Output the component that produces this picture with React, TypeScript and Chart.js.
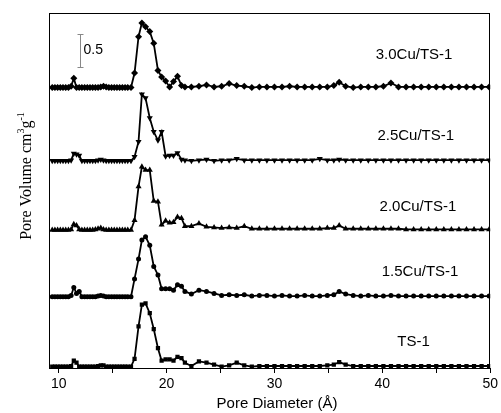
import { useEffect, useRef } from "react";
import { Chart, registerables } from "chart.js";
Chart.register(...registerables);

const poreDiameter = [
  9.4, 9.65, 9.9, 10.15, 10.4, 10.65, 10.9, 11.15, 11.4, 11.65, 11.9, 12.15, 12.4, 12.65, 12.9,
  13.15, 13.4, 13.65, 13.9, 14.15, 14.4, 14.65, 14.9, 15.15, 15.4, 15.65, 15.9, 16.15, 16.4, 16.7,
  17.03, 17.4, 17.71, 18.05, 18.44, 18.81, 19.2, 19.54, 19.91, 20.28, 20.64, 21.01, 21.38,
  21.7, 22.3, 23.0, 23.7, 24.4, 25.1, 25.8, 26.5, 27.2, 27.9, 28.6, 29.3, 30.0, 30.7, 31.4, 32.1,
  32.8, 33.5, 34.2, 34.9, 35.5, 36.0, 36.6, 37.3, 38.0, 38.7, 39.4, 40.1, 40.8, 41.5, 42.2, 42.9,
  43.6, 44.3, 45.0, 45.7, 46.4, 47.1, 47.8, 48.5, 49.2, 49.9,
];

const seriesLabels = ["3.0Cu/TS-1", "2.5Cu/TS-1", "2.0Cu/TS-1", "1.5Cu/TS-1", "TS-1"];
const seriesOffsets = [4.25, 3.14, 2.09, 1.08, 0.02];

const cu30 = [
  0, 0, 0, 0, 0, 0, 0, 0.02, 0.14, 0, 0, 0, 0, 0, 0,
  0, 0, 0, 0.01, 0.02, 0.01, 0, 0, 0, 0, 0, 0, 0, 0, 0,
  0.22, 0.77, 0.98, 0.92, 0.85, 0.67, 0.26, 0.16, 0.1, 0.01, 0.09, 0.17, 0.03,
  0.01, 0.01, 0.02, 0.04, 0.01, 0.02, 0.06, 0.03, 0.02, 0, 0.01, 0.01, 0.01, 0.01, 0.02, 0.01,
  0.01, 0.01, 0.01, 0.01, 0.03, 0.08, 0.02, 0, 0.01, 0.01, 0.01, 0.02, 0.07, 0.01, 0.01, 0.01,
  0.01, 0.01, 0.01, 0.01, 0.01, 0.01, 0.01, 0.01, 0.01, 0.01,
];
const cu25 = [
  0, 0, 0, 0, 0, 0, 0, 0.01, 0.11, 0.1, 0.08, 0, 0, 0, 0,
  0, 0, 0.01, 0.02, 0.01, 0, 0, 0, 0, 0, 0, 0, 0, 0, 0,
  0.06, 0.29, 1.01, 0.95, 0.65, 0.44, 0.31, 0.44, 0.07, 0.08, 0.08, 0.12, 0.02,
  0.01, 0, 0.01, 0.02, 0, 0.01, 0.01, 0.03, 0.01, 0.01, 0.01, 0.01, 0.01, 0.01, 0.01, 0.01,
  0.01, 0.01, 0.03, 0.01, 0.01, 0.02, 0.01, 0.01, 0.01, 0.01, 0.01, 0.01, 0.01, 0.01, 0.01, 0.01,
  0.01, 0.01, 0.01, 0.01, 0.01, 0.01, 0.01, 0.01, 0.01, 0.01,
];
const cu20 = [
  0, 0, 0, 0, 0, 0, 0, 0.01, 0.09, 0.07, 0.01, 0, 0, 0, 0,
  0, 0.01, 0.02, 0.03, 0.01, 0, 0, 0, 0, 0, 0, 0, 0, 0, 0,
  0.15, 0.66, 0.96, 0.91, 0.91, 0.44, 0.43, 0.08, 0.14, 0.11, 0.12, 0.2, 0.18,
  0.06, 0.06, 0.1, 0.05, 0.04, 0.03, 0.04, 0.03, 0.06, 0.02, 0.02, 0.02, 0.02, 0.02, 0.02, 0.02,
  0.02, 0.02, 0.02, 0.03, 0.03, 0.07, 0.02, 0.02, 0.02, 0.02, 0.02, 0.02, 0.02, 0.02, 0.01, 0.01,
  0.01, 0.01, 0.01, 0.01, 0.01, 0.01, 0.01, 0.01, 0.01, 0.01,
];
const cu15 = [
  0, 0, 0, 0, 0, 0, 0, 0.02, 0.14, 0.05, 0.08, 0, 0, 0, 0,
  0, 0, 0.01, 0.02, 0.01, 0, 0, 0, 0, 0, 0, 0, 0, 0, 0,
  0.27, 0.57, 0.86, 0.91, 0.78, 0.46, 0.33, 0.12, 0.12, 0.12, 0.1, 0.18, 0.16,
  0.08, 0.04, 0.1, 0.08, 0.05, 0.02, 0.03, 0.02, 0.03, 0.01, 0.02, 0.02, 0.01, 0.02, 0.01, 0.01,
  0.02, 0.01, 0.01, 0.02, 0.03, 0.08, 0.04, 0.02, 0.01, 0.02, 0.01, 0.01, 0.02, 0.01, 0.01, 0.01,
  0.01, 0.01, 0.01, 0.01, 0.01, 0.01, 0.01, 0.01, 0.01, 0.01,
];
const ts1 = [
  0, 0, 0, 0, 0, 0, 0, 0.01, 0.09, 0.06, 0, 0, 0, 0, 0,
  0, 0, 0.01, 0.02, 0.02, 0, 0, 0, 0, 0, 0, 0, 0, 0, 0,
  0.12, 0.61, 0.94, 0.96, 0.81, 0.57, 0.28, 0.09, 0.11, 0.11, 0.09, 0.15, 0.13,
  0.06, 0.01, 0.08, 0.06, 0.03, 0, 0.02, 0.06, 0.02, 0, 0.01, 0.01, 0.01, 0.01, 0.01, 0.01,
  0.01, 0.01, 0.01, 0.02, 0.03, 0.07, 0.03, 0.01, 0.01, 0.01, 0.01, 0.01, 0.01, 0.01, 0.01, 0.01,
  0.01, 0.01, 0.01, 0.01, 0.01, 0.01, 0.01, 0.01, 0.01, 0.01,
];
const seriesValues = [cu30, cu25, cu20, cu15, ts1];

const xMin = 9.1;
const xMax = 50;
const yMin = 0;
const yMax = 5.38;
const xTickStep = 5;
const xLabelStep = 10;

const labelAnchorX = [42.94, 43.1, 43.3, 43.5, 42.9];
const labelAnchorY = [4.74, 3.52, 2.44, 1.45, 0.39];

const scaleBarX = 12;
const scaleBarFrom = 4.56;
const scaleBarSize = 0.5;

const markerStyles = [
  { pointStyle: "rectRot", radius: 3.5, rotation: 0 },
  { pointStyle: "triangle", radius: 3.5, rotation: 180 },
  { pointStyle: "triangle", radius: 3.5, rotation: 0 },
  { pointStyle: "circle", radius: 2.5, rotation: 0 },
  { pointStyle: "rect", radius: 3, rotation: 0 },
];

const SANS = "'Liberation Sans', Arial, sans-serif";
const SERIF = "'Liberation Serif', 'Times New Roman', serif";

const decorPlugin = {
  id: "decor",
  afterDraw(chart: any) {
    const { ctx, chartArea } = chart;
    const xs = chart.scales.x;
    const ys = chart.scales.y;
    ctx.save();
    ctx.strokeStyle = "#000";
    ctx.lineWidth = 1;
    ctx.strokeRect(
      Math.round(chartArea.left) + 0.5,
      Math.round(chartArea.top) + 0.5,
      Math.round(chartArea.right - chartArea.left) - 1,
      Math.round(chartArea.bottom - chartArea.top)
    );
    ctx.fillStyle = "#000";
    ctx.font = `15px ${SANS}`;
    ctx.textAlign = "center";
    ctx.textBaseline = "middle";
    seriesLabels.forEach((lab, i) => {
      ctx.fillText(lab, xs.getPixelForValue(labelAnchorX[i]), ys.getPixelForValue(labelAnchorY[i]));
    });
    const bx = Math.round(xs.getPixelForValue(scaleBarX)) + 0.5;
    const by0 = ys.getPixelForValue(scaleBarFrom);
    const by1 = ys.getPixelForValue(scaleBarFrom + scaleBarSize);
    ctx.strokeStyle = "#888";
    ctx.lineWidth = 1;
    ctx.beginPath();
    ctx.moveTo(bx, by0);
    ctx.lineTo(bx, by1);
    ctx.moveTo(bx - 3, Math.round(by0) + 0.5);
    ctx.lineTo(bx + 3, Math.round(by0) + 0.5);
    ctx.moveTo(bx - 3, Math.round(by1) + 0.5);
    ctx.lineTo(bx + 3, Math.round(by1) + 0.5);
    ctx.stroke();
    ctx.fillStyle = "#000";
    ctx.font = `14px ${SANS}`;
    ctx.textAlign = "left";
    ctx.textBaseline = "middle";
    ctx.fillText(String(scaleBarSize), bx + 3, (by0 + by1) / 2);
    ctx.font = `15px ${SANS}`;
    ctx.textAlign = "center";
    ctx.fillText("Pore Diameter (\u00C5)", 277, 404);
    ctx.translate(31, 176);
    ctx.rotate(-Math.PI / 2);
    ctx.textAlign = "left";
    ctx.textBaseline = "alphabetic";
    const main = `16px ${SERIF}`;
    const sup = `10px ${SERIF}`;
    const parts: [string, string, number][] = [
      ["Pore Volume cm", main, 0],
      ["3", sup, -7],
      ["g", main, 0],
      ["-1", sup, -7],
    ];
    let total = 0;
    parts.forEach(([t, f]) => {
      ctx.font = f;
      total += ctx.measureText(t).width;
    });
    let cx = -total / 2;
    parts.forEach(([t, f, dy]) => {
      ctx.font = f;
      ctx.fillText(t, cx, dy);
      cx += ctx.measureText(t).width;
    });
    ctx.restore();
  },
};

export default function App() {
  const canvasRef = useRef<HTMLCanvasElement | null>(null);

  useEffect(() => {
    document.body.style.margin = "0";
    const canvas = canvasRef.current;
    if (!canvas) return;
    const datasets = seriesLabels.map((lab, i) => ({
      label: lab,
      data: poreDiameter.map((x, j) => ({ x, y: seriesValues[i][j] + seriesOffsets[i] })),
      borderColor: "#000",
      backgroundColor: "#000",
      borderWidth: 1.8,
      tension: 0,
      pointStyle: markerStyles[i].pointStyle as any,
      pointRadius: markerStyles[i].radius,
      pointRotation: markerStyles[i].rotation,
      pointBorderWidth: 0,
      pointBackgroundColor: "#000",
      pointBorderColor: "#000",
    }));
    const chart = new Chart(canvas, {
      type: "line",
      data: { datasets },
      options: {
        animation: false,
        responsive: true,
        maintainAspectRatio: false,
        layout: { padding: { top: 13, right: 6, left: 0, bottom: 0 } },
        plugins: {
          legend: { display: false },
          tooltip: { enabled: false },
        },
        scales: {
          x: {
            type: "linear",
            min: xMin,
            max: xMax,
            grid: {
              display: true,
              drawOnChartArea: false,
              drawTicks: true,
              tickLength: 5,
              color: "#000",
            },
            border: { display: false },
            ticks: {
              stepSize: xTickStep,
              includeBounds: false,
              autoSkip: false,
              maxRotation: 0,
              padding: 3,
              color: "#000",
              font: { family: SANS, size: 14 },
              callback: (v: any) => (Number(v) % xLabelStep === 0 ? String(v) : ""),
            },
            afterFit: (s: any) => {
              s.height = 45;
            },
          },
          y: {
            type: "linear",
            min: yMin,
            max: yMax,
            grid: { display: false },
            border: { display: false },
            ticks: { display: false },
            afterFit: (s: any) => {
              s.width = 49;
            },
          },
        },
      },
      plugins: [decorPlugin],
    });
    return () => chart.destroy();
  }, []);

  return (
    <div style={{ width: 501, height: 413, position: "relative" }}>
      <canvas ref={canvasRef} />
    </div>
  );
}
